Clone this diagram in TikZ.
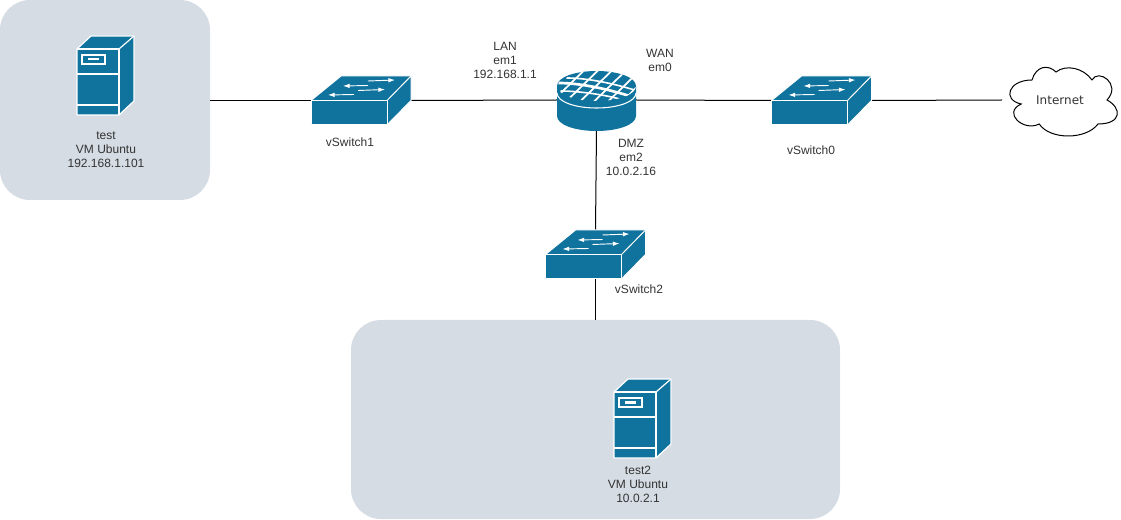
\documentclass[tikz,border=0pt]{standalone}
\usepackage{fontspec}
\setmainfont{Liberation Sans}
\newfontfamily\cloudfont{DejaVu Sans}
\usepackage{tikz}
\usetikzlibrary{arrows.meta}
\definecolor{iconblue}{HTML}{10739E}
\definecolor{zonegray}{HTML}{D5DCE4}
\tikzset{
    pics/switchicon/.style={code={
        \fill[iconblue] (-50,0) -- (-20,-24.5) -- (50,-24.5) -- (50,0) -- (26,24.5) -- (-50,24.5) -- cycle;
        \draw[white, line width=0.75pt, line join=round] (-50,0) -- (26,0) -- (26,24.5) -- (-50,24.5) -- cycle;
        \draw[white, line width=0.75pt] (26,0) -- (50,-24.5) -- (50,0) -- (26,24.5);
        \draw[white, line width=0.75pt] (-50,0) -- (-20,-24.5) -- (50,-24.5);
        \foreach \xa/\ya/\xb/\yb in {7/-19.5/34/-20.5, 7/-15/-18/-14.5, -3/-10/24/-11, -7/-6/-33/-5.5}{
            \draw[white, line width=0.7pt, -{Latex[length=5pt,width=3.5pt]}] (\xa,\ya) -- (\xb,\yb);
        }
    }},
    pics/servericon/.style={code={
        \fill[iconblue, draw=white, line width=0.9pt, line join=round]
            (-28.5,-27) -- (-14.5,-40) -- (28.5,-40) -- (28.5,25) -- (13.5,39) -- (-28.5,39) -- cycle;
        \draw[white, line width=0.9pt, line join=round] (-28.5,-27) -- (13.5,-27) -- (13.5,39);
        \draw[white, line width=0.9pt] (13.5,-27) -- (28.5,-40);
        \draw[white, line width=0.9pt] (-28.5,-2) -- (13.5,-2);
        \draw[white, line width=0.9pt] (-28.5,29) -- (13.5,29);
        \draw[white, line width=0.8pt] (-23.5,-21) rectangle (-0.5,-12);
        \fill[white] (-17.5,-18) rectangle (-7,-15.5);
    }},
    pics/routericon/.style={code={
        \fill[iconblue] (-39.5,-14) .. controls (-39.5,-22.5) and (-22,-29) .. (0,-29)
            .. controls (22,-29) and (39.5,-22.5) .. (39.5,-14)
            -- (39.5,16) .. controls (39.5,24.5) and (22,31) .. (0,31)
            .. controls (-22,31) and (-39.5,24.5) .. (-39.5,16) -- cycle;
        \draw[white, line width=0.8pt] (-39.5,-7) .. controls (-39.5,1.5) and (-22,8) .. (0,8)
            .. controls (22,8) and (39.5,1.5) .. (39.5,-7);
        \begin{scope}
            \clip (-39.5,-14) .. controls (-39.5,-22.5) and (-22,-29) .. (0,-29)
                .. controls (22,-29) and (39.5,-22.5) .. (39.5,-14)
                .. controls (39.5,-5.5) and (22,1) .. (0,1)
                .. controls (-22,1) and (-39.5,-5.5) .. (-39.5,-14) -- cycle;
            \draw[white, line width=2pt] (-38,-17) .. controls (-15,-17) and (15,-10) .. (36,-3);
            \draw[white, line width=1.2pt] (-36,-9) .. controls (-15,-9) and (15,-4) .. (26,0);
            \draw[white, line width=1.2pt] (-30,-22) .. controls (-10,-22) and (15,-17) .. (38,-10);
            \foreach \xs in {-28,-14,0,14,28,42}{
                \draw[white, line width=1.3pt] (\xs-18,3) -- (\xs+16,-30);
            }
        \end{scope}
    }}
}
\begin{document}
\begin{tikzpicture}[
    x=0.75pt, y=-0.75pt,
    zone/.style={fill=zonegray, rounded corners=22.5pt},
    iconbox/.style={inner sep=0pt, outer sep=0pt},
    lbl/.style={align=center, inner sep=0pt, text=black!80, font=\fontsize{9pt}{10.5pt}\selectfont},
    arr/.style={line width=0.75pt, black}
]
\useasboundingbox (0,0) rectangle (1121,520);

\node[zone, iconbox, minimum width=157.5pt, minimum height=150pt] (zone1) at (105,100) {};
\node[zone, iconbox, minimum width=366.75pt, minimum height=149.25pt] (zone2) at (595.5,419.5) {};

\node[iconbox, minimum width=75pt, minimum height=36.75pt] (sw1) at (361,100.5) {};
\node[iconbox, minimum width=75pt, minimum height=36.75pt] (sw0) at (821.5,100.5) {};
\node[iconbox, minimum width=75pt, minimum height=36.75pt] (sw2) at (595.5,254.5) {};
\node[iconbox, minimum width=59.25pt, minimum height=45pt] (rtr) at (596.5,100) {};
\node[iconbox, minimum width=90pt, minimum height=60pt] (cloud) at (1062,100) {};
\node[iconbox, minimum width=42.75pt, minimum height=59.25pt] (srv1) at (105.5,76) {};
\node[iconbox, minimum width=42.75pt, minimum height=59.25pt] (srv2) at (642.5,419) {};

\draw[arr] (zone1.east |- sw1.west) -- (sw1.west);
\draw[arr] (sw1.east)  -- (rtr.west);
\draw[arr] (rtr.east)  -- (sw0.west);
\draw[arr] (sw0.east)  -- (cloud.west);
\draw[arr] (rtr.south) -- (sw2.north);
\draw[arr] (sw2.south) -- (zone2.north);

\pic at (sw1) {switchicon};
\pic at (sw0) {switchicon};
\pic at (sw2) {switchicon};
\pic at (rtr) {routericon};
\pic at (srv1) {servericon};
\pic at (srv2) {servericon};

\draw[line width=0.75pt, fill=white] (1032,80)
    .. controls (1008,80) and (1002,100) .. (1021.2,104)
    .. controls (1002,112.8) and (1023.6,132) .. (1039.2,124)
    .. controls (1050,140) and (1086,140) .. (1098,124)
    .. controls (1122,124) and (1122,108) .. (1107,100)
    .. controls (1122,84) and (1098,68) .. (1092,80)
    .. controls (1083.6,68) and (1066,64) .. (1056,72)
    .. controls (1048,64) and (1036,66) .. (1032,80) -- cycle;
\node[lbl, font=\fontsize{9pt}{10.5pt}\cloudfont] (inet) at (1060,100) {Internet};

\node[lbl] (lbltest)  at (106,150) {test\\VM Ubuntu\\192.168.1.101};
\node[lbl] (lbltest2) at (638,484) {test2\\VM Ubuntu\\10.0.2.1};
\node[lbl] (lbllan)   at (505,60)  {LAN\\em1\\192.168.1.1};
\node[lbl] (lblwan)   at (660,60)  {WAN\\em0};
\node[lbl] (lbldmz)   at (631,157) {DMZ\\em2\\10.0.2.16};
\node[lbl] (lblsw1)   at (350,142) {vSwitch1};
\node[lbl] (lblsw0)   at (811,150) {vSwitch0};
\node[lbl] (lblsw2)   at (639,289) {vSwitch2};
\end{tikzpicture}
\end{document}
